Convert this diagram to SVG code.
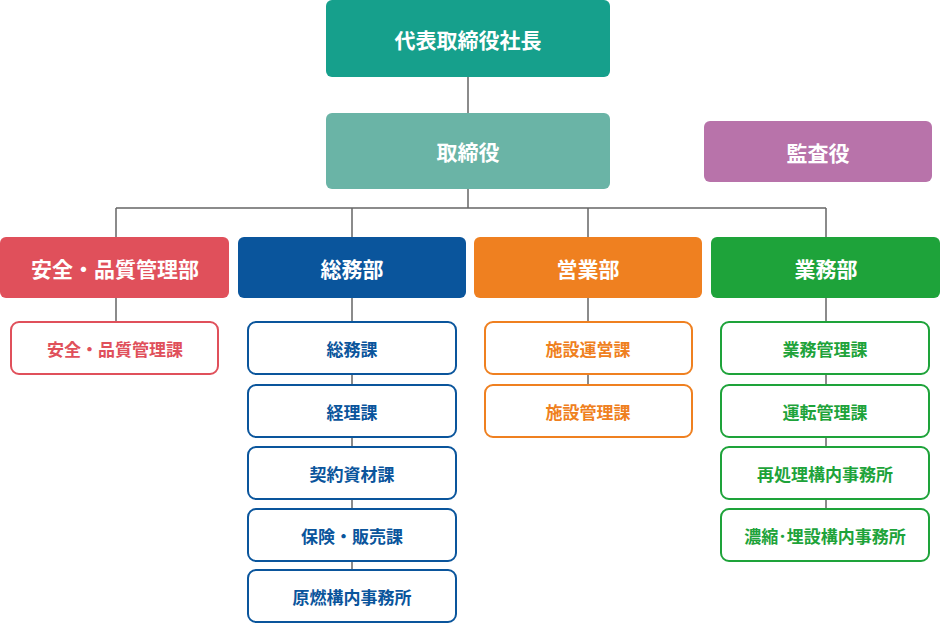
<svg xmlns="http://www.w3.org/2000/svg" width="940" height="623" viewBox="0 0 940 623">
<style>
text{font-family:"Noto Sans CJK JP","Noto Sans",sans-serif;font-weight:bold;text-anchor:middle;dominant-baseline:central}
.big{font-size:21px;fill:#fff}
.sub{font-size:17px}
.ln{stroke:#666;stroke-width:1.5;fill:none}
.s{fill:#fff;stroke-width:2}
</style>
<rect width="940" height="623" fill="#fff"/>
<g id="connectors" class="ln">
<path d="M468 77V113M468 189V208M116 208H826M116 208V237M352 208V237M588 208V237M826 208V237"/>
<path d="M116 298V322M352 298V596M588 298V411M826 298V535"/>
</g>
<g id="ceo"><rect x="326" y="0" width="284" height="77" rx="6" fill="#16a08c"/><text class="big" x="468" y="39">代表取締役社長</text></g>
<g id="directors"><rect x="326" y="113" width="284" height="76" rx="6" fill="#6ab4a6"/><text class="big" x="468" y="151">取締役</text></g>
<g id="auditor"><rect x="704" y="121" width="228" height="61" rx="6" fill="#b873aa"/><text class="big" x="818" y="152">監査役</text></g>
<g id="safety"><rect x="0" y="237" width="229" height="61" rx="6" fill="#e0505b"/><text class="big" x="115" y="268">安全・品質管理部</text></g>
<g id="general"><rect x="238" y="237" width="228" height="61" rx="6" fill="#0a559c"/><text class="big" x="352" y="268">総務部</text></g>
<g id="sales"><rect x="474" y="237" width="228" height="61" rx="6" fill="#ef8020"/><text class="big" x="588" y="268">営業部</text></g>
<g id="ops"><rect x="711" y="237" width="229" height="61" rx="6" fill="#1ea33a"/><text class="big" x="826" y="268">業務部</text></g>
<g id="safety-sub" fill="#e0505b"><rect class="s" stroke="#e0505b" x="11" y="322" width="207" height="52" rx="8"/><text class="sub" x="115" y="348">安全・品質管理課</text></g>
<g id="general-sub" fill="#0a559c">
<rect class="s" stroke="#0a559c" x="248" y="322" width="208" height="52" rx="8"/><text class="sub" x="352" y="348">総務課</text>
<rect class="s" stroke="#0a559c" x="248" y="385" width="208" height="52" rx="8"/><text class="sub" x="352" y="411">経理課</text>
<rect class="s" stroke="#0a559c" x="248" y="447" width="208" height="52" rx="8"/><text class="sub" x="352" y="473">契約資材課</text>
<rect class="s" stroke="#0a559c" x="248" y="509" width="208" height="52" rx="8"/><text class="sub" x="352" y="535">保険・販売課</text>
<rect class="s" stroke="#0a559c" x="248" y="570" width="208" height="52" rx="8"/><text class="sub" x="352" y="596">原燃構内事務所</text>
</g>
<g id="sales-sub" fill="#ef8020">
<rect class="s" stroke="#ef8020" x="485" y="322" width="207" height="52" rx="8"/><text class="sub" x="588" y="348">施設運営課</text>
<rect class="s" stroke="#ef8020" x="485" y="385" width="207" height="52" rx="8"/><text class="sub" x="588" y="411">施設管理課</text>
</g>
<g id="ops-sub" fill="#1ea33a">
<rect class="s" stroke="#1ea33a" x="721" y="322" width="208" height="52" rx="8"/><text class="sub" x="825" y="348">業務管理課</text>
<rect class="s" stroke="#1ea33a" x="721" y="385" width="208" height="52" rx="8"/><text class="sub" x="825" y="411">運転管理課</text>
<rect class="s" stroke="#1ea33a" x="721" y="447" width="208" height="52" rx="8"/><text class="sub" x="825" y="473">再処理構内事務所</text>
<rect class="s" stroke="#1ea33a" x="721" y="509" width="208" height="52" rx="8"/><text class="sub" x="825" y="535">濃縮･埋設構内事務所</text>
</g>
</svg>
